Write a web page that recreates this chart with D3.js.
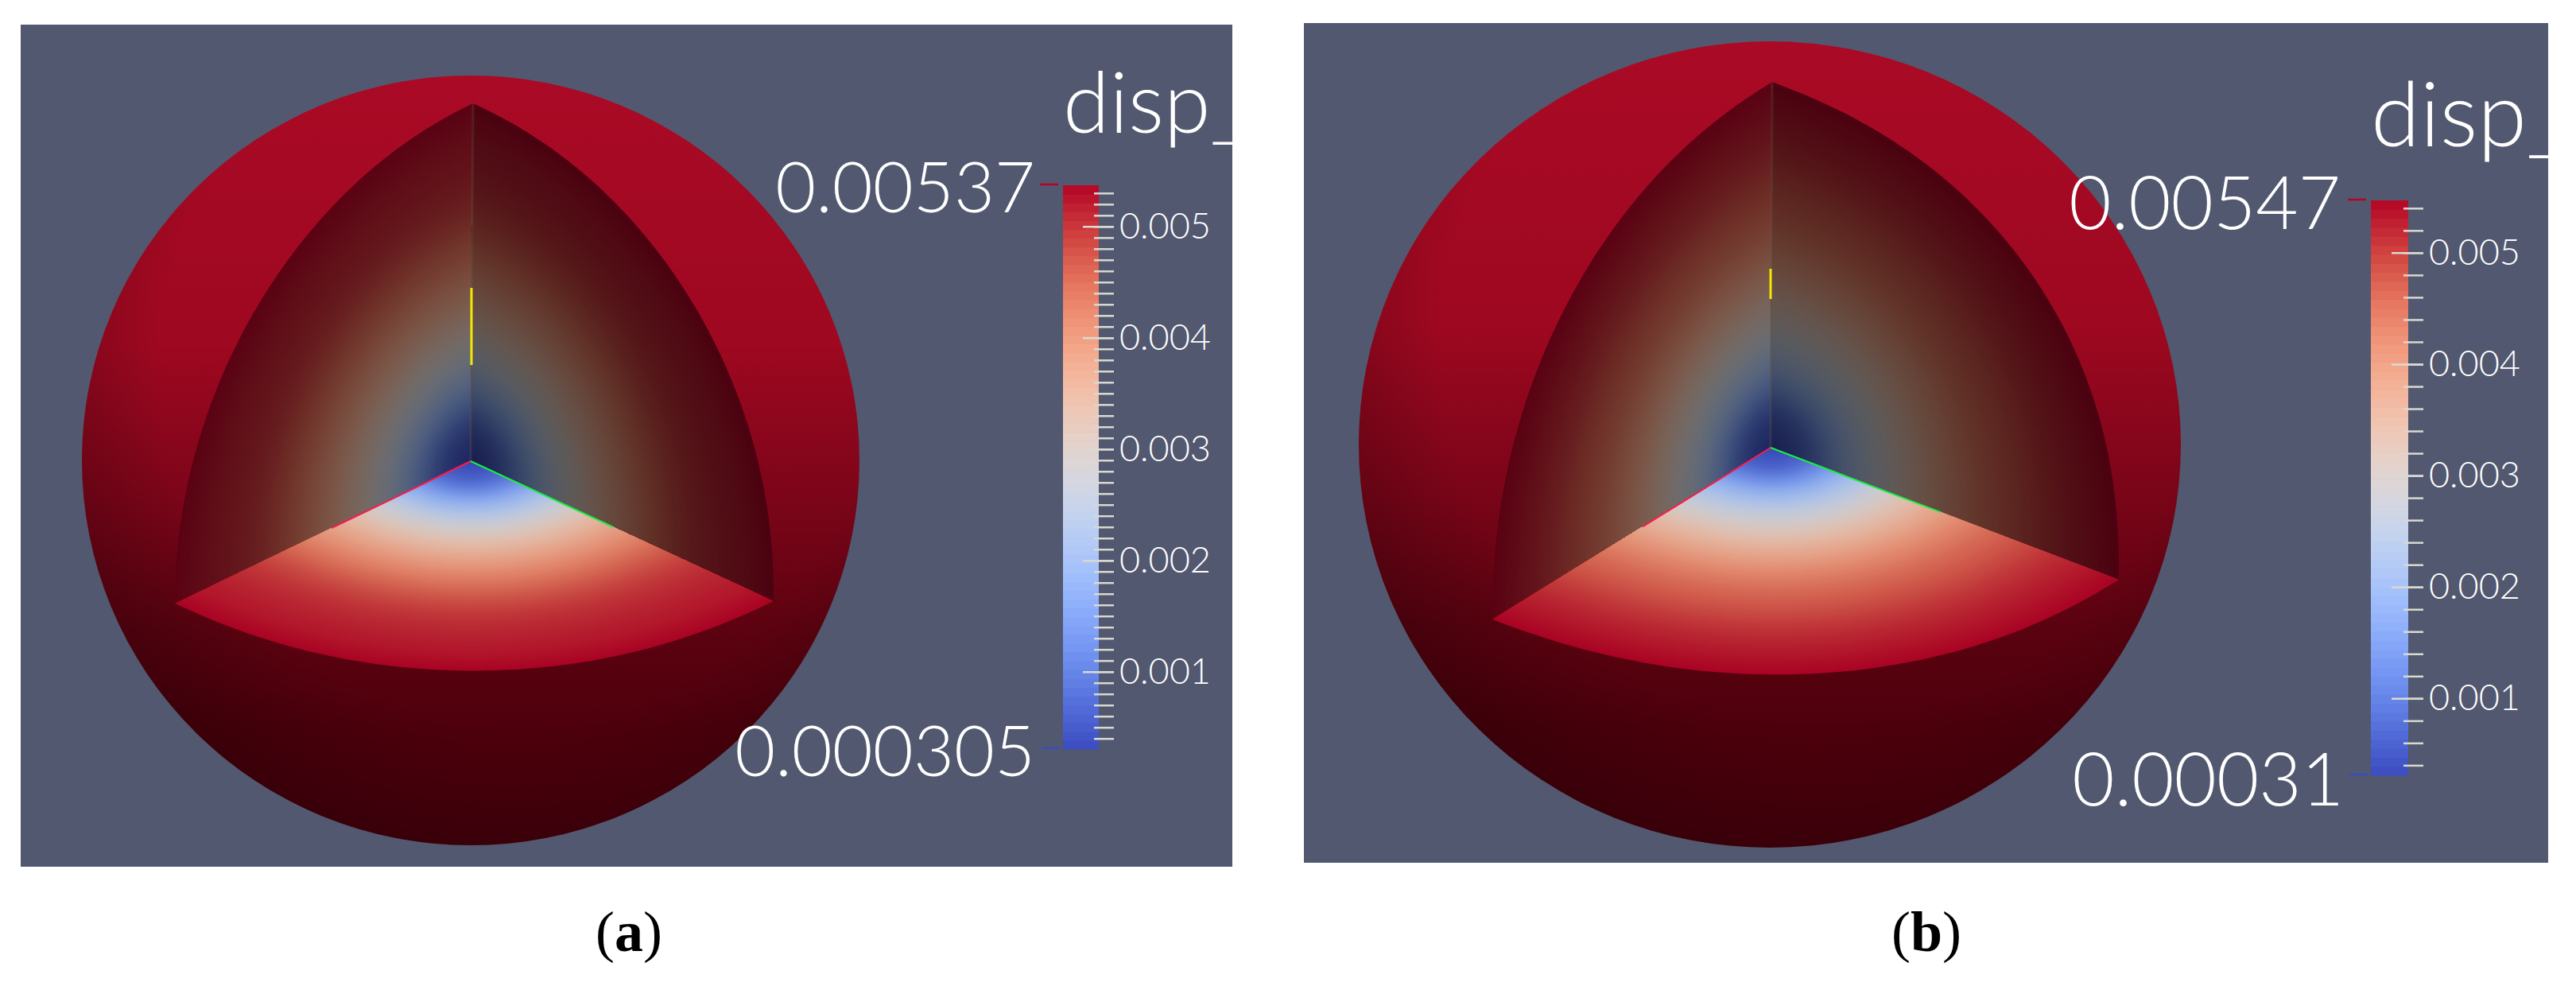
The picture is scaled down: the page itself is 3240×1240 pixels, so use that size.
<!DOCTYPE html>
<html>
<head>
<meta charset="utf-8">
<script src="https://cdn.jsdelivr.net/npm/d3@7"></script>
<style>
  body { margin: 0; background: #fff; }
  text { font-family: Lato, "Open Sans", sans-serif; font-weight: 300; fill: #fff; }
  .caption { font-family: "Liberation Serif", serif; font-weight: 400; fill: #000; }
</style>
</head>
<body>
<div id="chart"></div>
<script>
var radius = [0, 0.1, 0.2, 0.3, 0.4, 0.5, 0.6, 0.7, 0.8, 0.9, 1];
var dispA = [0.000305, 0.0006, 0.0018, 0.0027, 0.0034, 0.004, 0.0045, 0.0049, 0.0051, 0.0052, 0.00537];
var dispB = [0.00031, 0.00062, 0.0019, 0.0027, 0.0034, 0.004, 0.0045, 0.0048, 0.0051, 0.0053, 0.00547];
var rangeA = [0.000305, 0.00537];
var rangeB = [0.00031, 0.00547];
var labelTicks = [0.001, 0.002, 0.003, 0.004, 0.005];
var minorTicksA = [0.0004, 0.0005, 0.0006, 0.0007, 0.0008, 0.0009, 0.001, 0.0011, 0.0012, 0.0013,
    0.0014, 0.0015, 0.0016, 0.0017, 0.0018, 0.0019, 0.002, 0.0021, 0.0022, 0.0023,
    0.0024, 0.0025, 0.0026, 0.0027, 0.0028, 0.0029, 0.003, 0.0031, 0.0032, 0.0033,
    0.0034, 0.0035, 0.0036, 0.0037, 0.0038, 0.0039, 0.004, 0.0041, 0.0042, 0.0043,
    0.0044, 0.0045, 0.0046, 0.0047, 0.0048, 0.0049, 0.005, 0.0051, 0.0052, 0.0053];
var minorTicksB = [0.0004, 0.0006, 0.0008, 0.001, 0.0012, 0.0014, 0.0016, 0.0018, 0.002, 0.0022,
    0.0024, 0.0026, 0.0028, 0.003, 0.0032, 0.0034, 0.0036, 0.0038, 0.004, 0.0042,
    0.0044, 0.0046, 0.0048, 0.005, 0.0052, 0.0054];
var maxLabelA = "0.00537", minLabelA = "0.000305";
var maxLabelB = "0.00547", minLabelB = "0.00031";
var title = "disp_";

// Cool to warm colour map
var coolColors = ["#3b4cc0", "#6282ea", "#8db0fe", "#b7cff9", "#dddcdc", "#f5c4ac", "#f49a7b", "#dc5d4a", "#b40426"];

var svg = d3.select("#chart").append("svg")
    .attr("width", 3240)
    .attr("height", 1240);

var defs = svg.append("defs");

// Outer surface lighting, bright on top and dark underneath
var surface = defs.append("linearGradient")
    .attr("id", "surface")
    .attr("x1", 0).attr("y1", 0).attr("x2", 0).attr("y2", 1);
[[0, "#aa0a25"], [0.35, "#9e0820"], [0.55, "#7c0519"], [0.72, "#5c0210"], [0.85, "#4e000c"], [1, "#4c000c"]]
    .forEach(function(s) {
        surface.append("stop").attr("offset", s[0]).attr("stop-color", s[1]);
    });
var limb = defs.append("radialGradient").attr("id", "limb")
    .attr("cx", 0.56).attr("cy", 0.38).attr("r", 0.66);
[[0.7, 0], [1, 0.3]].forEach(function(s) {
    limb.append("stop").attr("offset", s[0]).attr("stop-color", "#000").attr("stop-opacity", s[1]);
});

function shaded(color, k) {
    var c = d3.rgb(color);
    return d3.rgb(c.r * k, c.g * k, c.b * k).formatRgb();
}

function drawPanel(p) {
    var clipId = "clip" + p.id;
    defs.append("clipPath").attr("id", clipId)
        .append("rect")
        .attr("x", p.box[0]).attr("y", p.box[1])
        .attr("width", p.box[2] - p.box[0]).attr("height", p.box[3] - p.box[1]);

    var g = svg.append("g").attr("clip-path", "url(#" + clipId + ")");

    g.append("rect")
        .attr("x", p.box[0]).attr("y", p.box[1])
        .attr("width", p.box[2] - p.box[0]).attr("height", p.box[3] - p.box[1])
        .attr("fill", "#52586f");

    // Scales
    var cool = d3.scaleSequential(d3.interpolateRgbBasis(coolColors)).domain(p.range);
    var radiusUnit = d3.scaleLinear().domain(d3.extent(radius)).range([0, 1]);
    var profile = d3.interpolateBasis(p.disp);
    var colorAt = function(r) { return cool(profile(radiusUnit(r))); };

    // Sphere
    g.append("ellipse")
        .attr("cx", p.cx).attr("cy", p.cy).attr("rx", p.rx).attr("ry", p.ry)
        .attr("fill", "url(#surface)");
    g.append("ellipse")
        .attr("cx", p.cx).attr("cy", p.cy).attr("rx", p.rx).attr("ry", p.ry)
        .attr("fill", "url(#limb)");

    // The cut faces are quarter discs, painted as nested sectors from the rim inwards
    var angles = d3.range(0, Math.PI / 2 + 0.001, Math.PI / 120);
    var steps = d3.range(1, 0, -1 / 170);

    function drawFace(a, b, bulge, shade) {
        var sector = function(r) {
            var pts = angles.map(function(t) {
                var u = Math.pow(Math.max(Math.cos(t), 0), bulge) * r;
                var v = Math.pow(Math.max(Math.sin(t), 0), bulge) * r;
                return [p.o[0] + u * (a[0] - p.o[0]) + v * (b[0] - p.o[0]),
                        p.o[1] + u * (a[1] - p.o[1]) + v * (b[1] - p.o[1])];
            });
            return d3.line()([p.o].concat(pts)) + "Z";
        };
        g.append("g").selectAll("path").data(steps).enter().append("path")
            .attr("d", sector)
            .attr("fill", function(r) { return shaded(colorAt(r), shade); });
    }

    drawFace(p.top, p.left, p.bulgeLeft, 0.5);
    drawFace(p.top, p.right, p.bulgeRight, 0.42);
    drawFace(p.left, p.right, p.bulgeFloor, 0.94);

    // Seam between the walls and the coloured axes
    g.append("line")
        .attr("x1", p.o[0]).attr("y1", p.o[1]).attr("x2", p.top[0]).attr("y2", p.top[1])
        .attr("stroke", "#6b5545").attr("stroke-opacity", 0.3).attr("stroke-width", 3);
    var along = function(end, t) {
        return [p.o[0] + t * (end[0] - p.o[0]), p.o[1] + t * (end[1] - p.o[1])];
    };
    var redEnd = along(p.left, p.redLen), greenEnd = along(p.right, p.greenLen);
    g.append("line")
        .attr("x1", p.o[0]).attr("y1", p.o[1]).attr("x2", redEnd[0]).attr("y2", redEnd[1])
        .attr("stroke", "#ff1a4a").attr("stroke-width", 2);
    g.append("line")
        .attr("x1", p.o[0]).attr("y1", p.o[1]).attr("x2", greenEnd[0]).attr("y2", greenEnd[1])
        .attr("stroke", "#18f040").attr("stroke-width", 2);
    g.append("line")
        .attr("x1", p.yellow[0]).attr("y1", p.yellow[1]).attr("x2", p.yellow[0]).attr("y2", p.yellow[2])
        .attr("stroke", "#f5e800").attr("stroke-width", 3);

    // Colour bar
    var y = d3.scaleLinear().domain(p.range).range(p.barY);
    var bandStep = (p.range[1] - p.range[0]) / 64;
    var bands = d3.range(p.range[0], p.range[1] - bandStep / 2, bandStep);
    g.append("g").selectAll("rect").data(bands).enter().append("rect")
        .attr("x", p.barX[0])
        .attr("width", p.barX[1] - p.barX[0])
        .attr("y", function(d) { return y(d + bandStep); })
        .attr("height", function(d) { return y(d) - y(d + bandStep) + 0.6; })
        .attr("fill", function(d) { return cool(d + bandStep / 2); });

    // Minor ticks
    var minorAxis = g.append("g")
        .attr("transform", "translate(" + p.tickX + ",0)")
        .call(d3.axisRight(y).tickValues(p.minor).tickSize(25).tickFormat(""));
    minorAxis.select(".domain").remove();
    minorAxis.selectAll("line").attr("stroke", "#d9d9d2").attr("stroke-width", 2.5);

    // Labelled ticks
    var mainAxis = g.append("g")
        .attr("transform", "translate(" + p.majorX + ",0)")
        .call(d3.axisRight(y).tickValues(labelTicks).tickSize(p.tickX + 25 - p.majorX)
            .tickPadding(7).tickFormat(d3.format(".3f")));
    mainAxis.select(".domain").remove();
    mainAxis.selectAll("line").attr("stroke", "#d9d9d2").attr("stroke-width", 2.5);
    mainAxis.selectAll("text")
        .style("font-family", "Lato, sans-serif")
        .style("font-weight", 300)
        .style("font-size", "45px")
        .attr("fill", "#fff");

    // Title and range labels
    g.append("text").attr("x", p.titleX).attr("y", p.titleY)
        .style("font-size", p.titleSize + "px")
        .text(title);
    g.append("text").attr("x", p.bigRight[0]).attr("y", p.maxY)
        .attr("text-anchor", "end").style("font-size", p.bigSize + "px")
        .text(p.maxLabel);
    g.append("text").attr("x", p.bigRight[1]).attr("y", p.minY)
        .attr("text-anchor", "end").style("font-size", p.bigSize + "px")
        .text(p.minLabel);

    // Small dashes marking the two ends of the bar
    g.append("line")
        .attr("x1", p.barX[0] - 29).attr("x2", p.barX[0] - 6)
        .attr("y1", y(p.range[1]) - 1).attr("y2", y(p.range[1]) - 1)
        .attr("stroke", cool(p.range[1])).attr("stroke-width", 2.5);
    g.append("line")
        .attr("x1", p.barX[0] - 27).attr("x2", p.barX[0] - 4)
        .attr("y1", y(p.range[0]) - 1).attr("y2", y(p.range[0]) - 1)
        .attr("stroke", cool(p.range[0])).attr("stroke-width", 2.5);

    // Caption, only the letter is bold
    var cap = svg.append("text").attr("class", "caption")
        .attr("x", p.captionX).attr("y", 1196)
        .attr("text-anchor", "middle")
        .style("font-size", "72px");
    cap.append("tspan").text("(");
    cap.append("tspan").style("font-weight", 700).text(p.id);
    cap.append("tspan").text(")");
}

drawPanel({
    id: "a", box: [26, 31, 1550, 1090],
    disp: dispA, range: rangeA, minor: minorTicksA, maxLabel: maxLabelA, minLabel: minLabelA,
    cx: 592, cy: 579, rx: 489, ry: 484,
    o: [592, 580], top: [595, 130], left: [220, 759], right: [973, 756],
    bulgeLeft: 0.93, bulgeRight: 0.92, bulgeFloor: 0.86,
    redLen: 0.47, greenLen: 0.47, yellow: [593, 362, 459],
    barX: [1337, 1382], barY: [942, 233], tickX: 1376, majorX: 1362,
    titleX: 1337, titleY: 167, titleSize: 106, bigSize: 88, bigRight: [1302, 1302], maxY: 267, minY: 976,
    captionX: 791
});

drawPanel({
    id: "b", box: [1640, 29, 3205, 1085],
    disp: dispB, range: rangeB, minor: minorTicksB, maxLabel: maxLabelB, minLabel: minLabelB,
    cx: 2226, cy: 559, rx: 517, ry: 507,
    o: [2227, 563], top: [2229, 103], left: [1877, 779], right: [2665, 729],
    bulgeLeft: 0.88, bulgeRight: 0.85, bulgeFloor: 0.86,
    redLen: 0.46, greenLen: 0.49, yellow: [2227, 338, 376],
    barX: [2982, 3029], barY: [975, 252], tickX: 3023, majorX: 3008,
    titleX: 2982, titleY: 184, titleSize: 112, bigSize: 92, bigRight: [2944, 2948], maxY: 288, minY: 1013,
    captionX: 2423
});
</script>
</body>
</html>
